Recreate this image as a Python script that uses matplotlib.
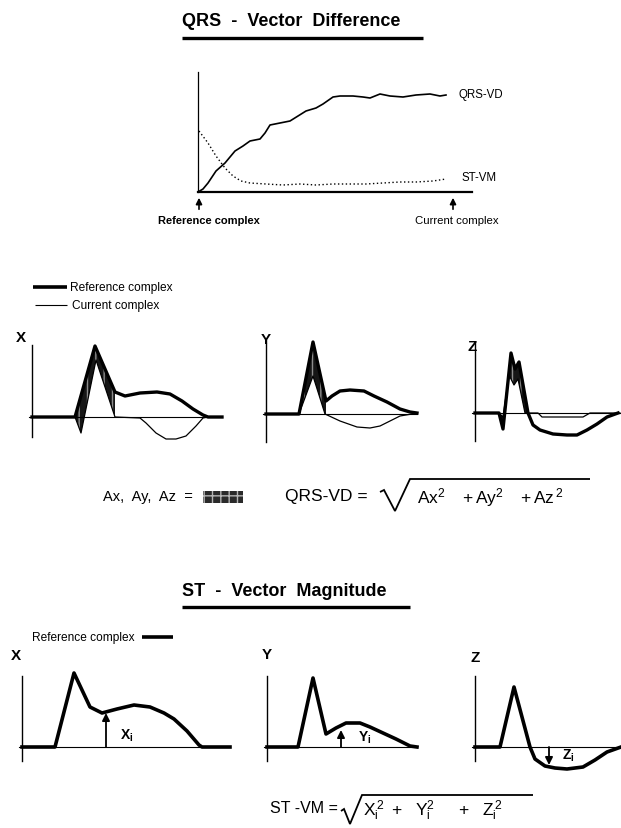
import numpy as np
import matplotlib
matplotlib.use('Agg')
import matplotlib.pyplot as plt
from matplotlib.lines import Line2D
from matplotlib.patches import Rectangle

plt.rcParams['font.family'] = ['Liberation Sans', 'DejaVu Sans']
plt.rcParams['mathtext.fontset'] = 'custom'
plt.rcParams['mathtext.rm'] = 'Liberation Sans'
plt.rcParams['mathtext.it'] = 'Liberation Sans'
plt.rcParams['mathtext.bf'] = 'Liberation Sans:bold'
plt.rcParams['hatch.linewidth'] = 1.0

W, H = 621, 829

# ---------------- data ----------------
# Trend plot (QRS-VD and ST-VM between reference and current complex)
trend_t = [0, 5, 10, 18, 27, 37, 45, 52, 62, 67, 72, 82, 92, 100, 108, 118, 125, 135,
           142, 155, 165, 172, 182, 192, 205, 218, 232, 242, 248]
qrs_vd = [0, 3, 9, 21, 29, 41, 46, 51, 53, 59, 67, 69, 71, 76, 81, 84, 88, 95,
          96, 96, 95, 94, 98, 96, 95, 97, 98, 96, 97]
stvm_t = [1, 10, 18, 27, 35, 43, 52, 68, 85, 102, 118, 135, 152, 168, 185, 202, 218, 235, 248]
st_vm = [61, 49, 36, 24, 16, 11, 9, 8, 7, 8, 7, 8, 8, 8, 9, 10, 10, 11, 13]
ref_mark_t = 1
cur_mark_t = 255

# QRS vector difference panels: reference and current complexes
x_ref_t = [0, 43, 63, 83, 93, 108, 125, 138, 150, 161, 171, 176, 190]
x_ref_v = [0, 0, 71, 25, 21, 24, 25, 23, 16, 8, 2, 0, 0]
x_cur_t = [0, 43, 49, 64, 83, 108, 114, 124, 134, 144, 154, 164, 171, 176, 190]
x_cur_v = [0, 0, -16, 57, 0, -1, -6, -16, -22, -22, -19, -9, -1, 0, 0]

y_ref_t = [0, 33, 47, 60, 66, 74, 84, 98, 108, 121, 134, 144, 151]
y_ref_v = [0, 0, 72, 13, 18, 23, 24, 23, 18, 12, 5, 2, 1]
y_cur_t = [0, 33, 47, 59, 74, 91, 104, 114, 124, 134, 146, 151]
y_cur_v = [0, 0, 38, 0, -7, -13, -14, -12, -7, -2, 0, 0]

z_ref_t = [0, 24, 28, 36, 40, 44, 53, 58, 65, 78, 92, 102, 112, 122, 132, 143]
z_ref_v = [0, 0, -16, 60, 44, 51, 0, -12, -17, -21, -22, -22, -17, -11, -4, 0]
z_cur_t = [0, 24, 28, 34, 39, 43, 50, 63, 67, 108, 115, 145]
z_cur_v = [0, 0, -4, 38, 28, 34, 0, 0, -4, -4, 0, 0]

qrs_windows = {'X': (43, 83), 'Y': (33, 60), 'Z': (24, 53)}

# ST vector magnitude panels: reference complex
stx_t = [0, 33, 52, 68, 80, 95, 112, 128, 142, 152, 165, 177, 180, 208]
stx_v = [0, 0, 74, 40, 34, 38, 42, 40, 34, 28, 16, 2, 0, 0]
sty_t = [0, 31, 46, 59, 69, 79, 93, 103, 116, 129, 143, 150]
sty_v = [0, 0, 69, 13, 19, 24, 24, 20, 14, 8, 1, 0]
stz_t = [0, 25, 39, 55, 60, 70, 80, 92, 108, 120, 132, 146]
stz_v = [0, 0, 60, 0, -12, -19, -21, -22, -20, -13, -5, 0]
st_sample_t = {'X': 84, 'Y': 74, 'Z': 74}
st_sample_v = {'X': 34, 'Y': 17, 'Z': -18}

# ---------------- layout helpers ----------------
fig = plt.figure(figsize=(W / 100, H / 100), dpi=100)
fig.patch.set_facecolor('white')


def fx(x):
    return x / W


def fy(y):
    return 1 - y / H


def text(x, y, s, **kw):
    kw.setdefault('va', 'center')
    kw.setdefault('ha', 'left')
    fig.text(fx(x), fy(y), s, **kw)


def polyline(xs, ys, lw):
    fig.add_artist(Line2D([fx(v) for v in xs], [fy(v) for v in ys], color='black', lw=lw,
                          transform=fig.transFigure, solid_capstyle='butt',
                          solid_joinstyle='miter'))


def hline(x0, x1, y, lw):
    polyline([x0, x1], [y, y], lw)


def panel(x0, x1, ytop, ybot, y0, left_ext=3):
    ax = fig.add_axes([fx(x0), fy(ybot), (x1 - x0) / W, (ybot - ytop) / H])
    ax.set_xlim(0, x1 - x0)
    ax.set_ylim(-(ybot - y0), y0 - ytop)
    ax.patch.set_alpha(0)
    for s in ('top', 'right'):
        ax.spines[s].set_visible(False)
    ax.spines['left'].set_position(('data', 0))
    ax.spines['bottom'].set_position(('data', 0))
    ax.spines['left'].set_linewidth(1.0)
    ax.spines['bottom'].set_linewidth(0.8)
    ax.spines['bottom'].set_bounds(-left_ext, x1 - x0)
    ax.set_xticks([])
    ax.set_yticks([])
    return ax


# ---------------- titles ----------------
text(182, 22, 'QRS  -  Vector  Difference', fontsize=13, fontweight='bold')
hline(182, 423, 39, 2.4)
text(182, 592, 'ST  -  Vector  Magnitude', fontsize=13, fontweight='bold')
hline(182, 410, 608, 2.4)

# ---------------- trend plot ----------------
ax = fig.add_axes([fx(198), fy(193), (472 - 198) / W, (193 - 73) / H])
ax.set_xlim(0, 274)
ax.set_ylim(0, 120)
ax.patch.set_alpha(0)
for s in ('top', 'right'):
    ax.spines[s].set_visible(False)
ax.spines['left'].set_linewidth(0.9)
ax.spines['bottom'].set_linewidth(1.6)
ax.set_xticks([])
ax.set_yticks([])
ax.plot(trend_t, qrs_vd, color='black', lw=1.2, clip_on=False)
ax.plot(stvm_t, st_vm, color='black', lw=1.0, ls=(0, (1, 1.8)), clip_on=False)
text(459, 95, 'QRS-VD', fontsize=8.3)
text(461, 178, 'ST-VM', fontsize=8.3)
for t in (ref_mark_t, cur_mark_t):
    ax.annotate('', xy=(t, -3), xytext=(t, -20), annotation_clip=False,
                arrowprops=dict(arrowstyle='-|>', color='black', lw=1.2, mutation_scale=9))
ax.text(ref_mark_t + 10, -28, 'Reference complex', fontsize=8, fontweight='bold',
        ha='center', va='center', clip_on=False)
ax.text(cur_mark_t + 4, -28, 'Current complex', fontsize=8.2,
        ha='center', va='center', clip_on=False)

# ---------------- legend (middle) ----------------
hline(33, 67, 288, 2.6)
text(70, 288, 'Reference complex', fontsize=8.6)
hline(35, 67, 306, 0.8)
text(72, 306, 'Current complex', fontsize=8.6)

# ---------------- QRS difference panels ----------------
mid = [
    ('X', 32, 222, 346, 438, 418, x_ref_t, x_ref_v, x_cur_t, x_cur_v, (16, 338)),
    ('Y', 266, 417, 345, 443, 415, y_ref_t, y_ref_v, y_cur_t, y_cur_v, (261, 340)),
    ('Z', 475, 620, 343, 442, 414, z_ref_t, z_ref_v, z_cur_t, z_cur_v, (467, 347)),
]
for name, x0, x1, yt, yb, y0, rt, rv, ct, cv, lab in mid:
    a = panel(x0, x1, yt, yb, y0)
    lo, hi = qrs_windows[name]
    grid = np.linspace(lo, hi, 200)
    r = np.interp(grid, rt, rv)
    c = np.interp(grid, ct, cv)
    a.fill_between(grid, r, c, facecolor='#161616', edgecolor='#8c8c8c',
                   hatch='||', linewidth=0, clip_on=False)
    a.plot(ct, cv, color='black', lw=0.9, clip_on=False)
    a.plot(rt, rv, color='black', lw=2.4, clip_on=False, solid_joinstyle='round')
    text(lab[0], lab[1], name, fontsize=11, fontweight='bold')

# ---------------- formula row ----------------
text(103, 497, 'Ax,  Ay,  Az  =', fontsize=10.5)
fig.add_artist(Rectangle((fx(203), fy(504)), (243 - 203) / W, (504 - 492) / H,
                         transform=fig.transFigure, facecolor='#2a2a2a',
                         edgecolor='#b5b5b5', hatch='++', linewidth=0))
text(285, 497, 'QRS-VD =', fontsize=12.5)
polyline([380, 384, 395, 410, 590], [493, 491, 512, 480, 480], 1.3)
text(417, 498, r'$\mathrm{Ax}^{2}\ \ \ +\mathrm{Ay}^{2}\ \ \ +\mathrm{Az}^{\,2}$', fontsize=12.5)

# ---------------- ST magnitude panels ----------------
bot = [
    ('X', 22, 230, stx_t, stx_v, (16, 656), (120, 736)),
    ('Y', 267, 417, sty_t, sty_v, (267, 655), (358, 738)),
    ('Z', 475, 621, stz_t, stz_v, (475, 658), (562, 756)),
]
for name, x0, x1, tt, vv, lab, sub in bot:
    a = panel(x0, x1, 677, 762, 748)
    a.plot(tt, vv, color='black', lw=2.6, clip_on=False, solid_joinstyle='round')
    a.annotate('', xy=(st_sample_t[name], st_sample_v[name]), xytext=(st_sample_t[name], 0),
               annotation_clip=False,
               arrowprops=dict(arrowstyle='-|>', color='black', lw=1.3, mutation_scale=11,
                               shrinkA=0, shrinkB=0))
    text(lab[0], lab[1], name, fontsize=11, fontweight='bold', ha='center')
    text(sub[0], sub[1], r'$\mathbf{%s}_{\mathbf{i}}$' % name, fontsize=10)

hline(142, 173, 638, 2.6)
text(32, 638, 'Reference complex', fontsize=8.6)

text(270, 809, 'ST -VM =', fontsize=11.5)
polyline([341, 344, 350, 362, 533], [812, 810, 825, 796, 796], 1.3)
for xpos, term in ((363, r'$\mathrm{X}_{\mathrm{i}}^{\,2}$'), (391, '+'),
                   (415, r'$\mathrm{Y}_{\mathrm{i}}^{2}$'), (458, '+'),
                   (482, r'$\mathrm{Z}_{\mathrm{i}}^{\,2}$')):
    text(xpos, 811, term, fontsize=12.5)

fig.savefig('out.png', dpi=100, facecolor='white')
